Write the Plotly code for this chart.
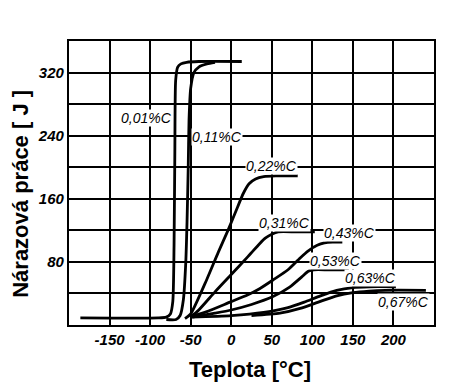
import plotly.graph_objects as go

# ---- data ----
c001_x = [-186, -90, -80, -75, -72, -70.5, -69.5, -68.5, -66, -62, -55, -40, 13]
c001_y = [9, 9, 10, 14, 30, 100, 220, 310, 327, 331, 333, 334, 334]

c011_x = [-80, -68, -63, -59, -56, -54.5, -53, -52, -50, -46, -40, -30, -20]
c011_y = [7, 7, 12, 32, 80, 130, 200, 260, 300, 320, 327, 331, 333]

c022_x = [-57, -50, -30, -16, -4, 8, 15, 22, 30, 40, 55, 82]
c022_y = [8, 14, 58, 92, 120, 150, 167, 179, 185, 188, 189, 189]

c031_x = [-50, -40, -20, 0, 20, 35, 42, 50, 58, 80, 103]
c031_y = [10, 19, 42, 64, 86, 103, 110, 115, 118, 118, 118]

c043_x = [-48, -30, -1.5, 20, 35, 51.5, 70, 85, 95, 106, 115, 125, 137]
c043_y = [11, 17, 29, 38, 46, 57, 70, 85, 94, 101, 104, 105, 105]

c053_x = [-48, -20, 0, 25, 51.5, 72, 87, 95, 102, 120, 145]
c053_y = [10, 15, 19, 26, 36, 48, 61, 68, 70, 70, 70]

c063_x = [-50, 0, 40, 70, 90, 110, 130, 150, 170, 203]
c063_y = [10, 12, 16, 22, 29, 37, 44, 47.5, 48.5, 48.5]

c067_x = [25, 60, 85, 110, 130, 150, 170, 190, 240]
c067_y = [12, 15, 21, 30, 37, 41, 43, 44, 44]

series_names = ["0,01%C", "0,11%C", "0,22%C", "0,31%C", "0,43%C", "0,53%C", "0,63%C", "0,67%C"]
series_x = [c001_x, c011_x, c022_x, c031_x, c043_x, c053_x, c063_x, c067_x]
series_y = [c001_y, c011_y, c022_y, c031_y, c043_y, c053_y, c063_y, c067_y]

label_x = [-105, -17, 50, 66, 146, 128, 172, 212]
label_y = [262, 238, 201, 129, 117, 81, 60, 29]

x_ticks = [-150, -100, -50, 0, 50, 100, 150, 200]
x_ticktext = ["-150", "-100", "-50", "0", "50", "100", "150", "200"]
y_ticks = [40, 80, 120, 160, 200, 240, 280, 320]
y_ticktext = ["", "80", "", "160", "", "240", "", "320"]

FONT = "Liberation Sans, Arial"

fig = go.Figure()
for xs, ys, nm in zip(series_x, series_y, series_names):
    fig.add_trace(go.Scatter(x=xs, y=ys, mode="lines", name=nm,
                             line=dict(color="black", width=2.8, shape="spline", smoothing=0.6),
                             showlegend=False, hoverinfo="skip"))

for lx, ly, nm in zip(label_x, label_y, series_names):
    fig.add_annotation(x=lx, y=ly, text=nm, showarrow=False, bgcolor="white",
                       xanchor="center", yanchor="middle",
                       font=dict(family=FONT, size=14, color="black", style="italic"),
                       borderpad=0)

fig.add_annotation(xref="paper", yref="paper", x=0.496, y=-0.158, text="<b>Teplota [°C]</b>",
                   xanchor="center", yanchor="middle", showarrow=False,
                   font=dict(family=FONT, size=22, color="black"))
fig.add_annotation(xref="paper", yref="paper", x=-0.135, y=0.461, text="<b>Nárazová práce [ J ]</b>",
                   xanchor="center", yanchor="middle", textangle=-90, showarrow=False,
                   font=dict(family=FONT, size=22, color="black"))

fig.update_xaxes(range=[-200, 250], tickvals=x_ticks, ticktext=x_ticktext,
                 showgrid=True, gridcolor="black", gridwidth=1.8, zeroline=False,
                 showline=True, linecolor="black", linewidth=2.2, mirror=True,
                 ticks="", ticklen=0, automargin=False,
                 tickfont=dict(family=FONT, size=15, color="black", weight="bold", style="italic"))
fig.update_yaxes(range=[0, 360], tickvals=y_ticks, ticktext=y_ticktext,
                 showgrid=True, gridcolor="black", gridwidth=1.8, zeroline=False,
                 showline=True, linecolor="black", linewidth=2.2, mirror=True,
                 ticks="", ticklen=0, automargin=False,
                 tickfont=dict(family=FONT, size=15, color="black", weight="bold", style="italic"))

# page body has an 8px default margin, so the figure is 8px smaller than the window
fig.update_layout(width=457, height=380, margin=dict(l=61, r=31, t=33, b=63),
                  paper_bgcolor="white", plot_bgcolor="white")

fig.write_html("out.html")
